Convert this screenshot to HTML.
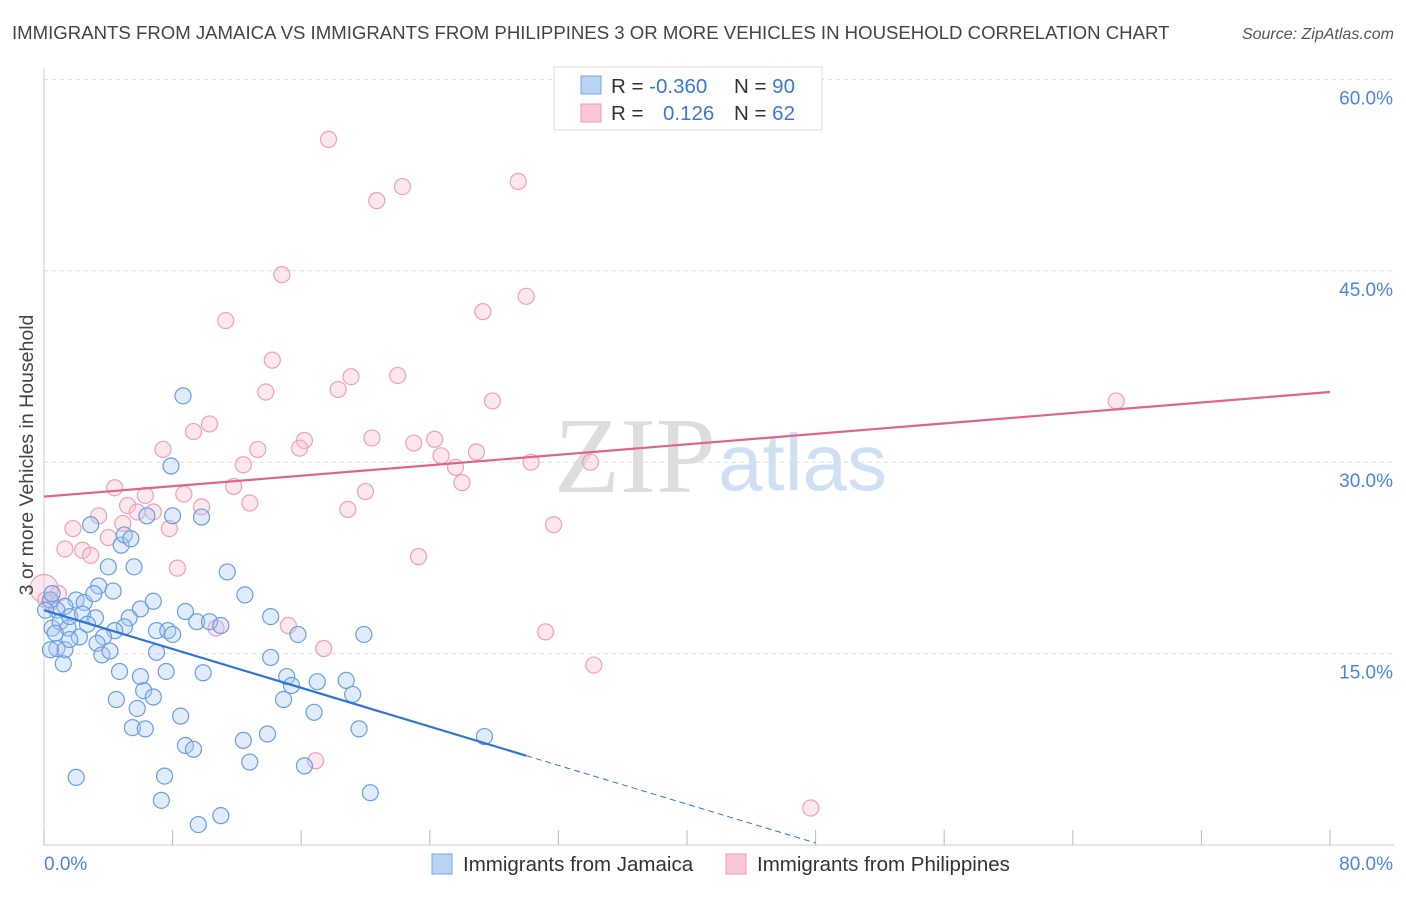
<!DOCTYPE html>
<html><head><meta charset="utf-8">
<style>
body{margin:0;background:#fff;font-family:"Liberation Sans",sans-serif;}
svg text{font-family:"Liberation Sans",sans-serif;}
</style></head>
<body>
<svg id="chart" width="1406" height="892" xmlns="http://www.w3.org/2000/svg">
<text x="12" y="39" font-size="18.6" fill="#444">IMMIGRANTS FROM JAMAICA VS IMMIGRANTS FROM PHILIPPINES 3 OR MORE VEHICLES IN HOUSEHOLD CORRELATION CHART</text>
<text x="1394" y="39" font-size="16" fill="#555" font-style="italic" text-anchor="end">Source: ZipAtlas.com</text>
<text x="716" y="492" font-size="108" fill="#ddd" text-anchor="end" style="font-family:'Liberation Serif',serif">ZIP</text>
<text x="718" y="490" font-size="80" fill="#cfe0f5">atlas</text>
<g id="grid"></g>
<g id="marks"></g>
<text transform="translate(33,455) rotate(-90)" font-size="19.5" fill="#444" text-anchor="middle">3 or more Vehicles in Household</text>
<g>
<rect x="554" y="67" width="268" height="63" fill="#fff" stroke="#ddd"/>
<rect x="581" y="76" width="20" height="18" fill="#b9d3f5" stroke="#7aa7e0"/>
<rect x="581" y="104" width="20" height="18" fill="#fcc7d6" stroke="#ee99b2"/>
<text x="611" y="93" font-size="20.5" fill="#333">R = <tspan fill="#3a78d6">-0.360</tspan></text>
<text x="734" y="93" font-size="20.5" fill="#333">N = <tspan fill="#3a78d6">90</tspan></text>
<text x="611" y="120" font-size="20.5" fill="#333">R = <tspan fill="#3a78d6" x="663">0.126</tspan></text>
<text x="734" y="120" font-size="20.5" fill="#333">N = <tspan fill="#3a78d6">62</tspan></text>
</g>
<g>
<rect x="432" y="854" width="20" height="20" fill="#b9d3f5" stroke="#7aa7e0"/>
<text x="463" y="871" font-size="20.5" fill="#333">Immigrants from Jamaica</text>
<rect x="726" y="854" width="20" height="20" fill="#fcc7d6" stroke="#ee99b2"/>
<text x="757" y="871" font-size="20.5" fill="#333">Immigrants from Philippines</text>
</g>
</svg>
<script>
const yTicks=[15,30,45,60];
const yTickLabels=["15.0%","30.0%","45.0%","60.0%"];
const xTicks=[0,8,16,24,32,40,48,56,64,72,80];
const blueX=[8.65,7.9,2.9,6.4,8.0,9.8,4.8,5.0,5.4,4.0,5.6,11.4,3.4,4.3,12.5,2.0,2.5,3.1,1.3,0.8,0.4,0.5,1.0,1.5,1.6,2.4,3.2,6.0,6.8,5.3,8.8,14.1,9.5,10.3,11.0,5.0,4.4,3.7,3.3,2.2,0.8,1.3,3.6,4.1,7.0,7.7,8.0,19.9,15.8,7.0,7.6,9.9,4.7,6.0,14.1,15.1,15.4,17.0,18.8,6.2,6.8,4.5,5.8,14.9,19.2,16.8,8.5,5.5,6.3,13.9,19.6,8.8,9.3,12.4,12.8,16.2,27.4,2.0,7.5,7.3,20.3,11.0,9.6,1.2,0.4,0.5,0.1,0.7,1.6,2.7];
const blueY=[35.2,29.7,25.1,25.8,25.8,25.7,23.5,24.3,24.0,21.8,21.8,21.4,20.3,19.9,19.6,19.2,19.0,19.7,18.7,18.4,19.2,17.0,17.5,17.0,17.9,18.1,17.8,18.5,19.1,17.8,18.3,17.9,17.5,17.5,17.2,17.1,16.8,16.3,15.8,16.3,15.4,15.3,14.9,15.2,16.8,16.8,16.5,16.5,16.5,15.1,13.6,13.5,13.6,13.2,14.7,13.2,12.5,12.8,12.9,12.1,11.6,11.4,10.7,11.4,11.8,10.4,10.1,9.2,9.1,8.7,9.1,7.8,7.5,8.2,6.5,6.2,8.5,5.3,5.4,3.5,4.1,2.3,1.6,14.2,15.3,19.7,18.4,16.6,16.1,17.3];
const pinkX=[17.7,20.7,22.3,29.5,14.8,11.3,30.0,27.3,14.2,19.1,22.0,18.3,13.8,27.9,66.7,10.3,9.3,7.4,13.3,20.4,16.2,15.9,23.0,24.3,24.7,26.9,25.6,30.3,34.0,12.4,11.8,8.7,20.0,26.0,4.4,6.3,12.8,9.8,18.9,5.2,5.8,6.8,3.4,7.8,4.9,1.8,31.7,4.0,1.3,2.4,2.9,8.3,23.3,0.0,0.1,0.9,0.4,15.2,10.7,17.4,31.2,34.2,16.9,47.7];
const pinkY=[55.3,50.5,51.6,52.0,44.7,41.1,43.0,41.8,38.0,36.7,36.8,35.7,35.5,34.8,34.8,33.0,32.4,31.0,31.0,31.9,31.7,31.1,31.5,31.8,30.5,30.8,29.6,30.0,30.0,29.8,28.1,27.5,27.7,28.4,28.0,27.4,26.8,26.5,26.3,26.6,26.1,26.1,25.8,24.8,25.2,24.8,25.1,24.1,23.2,23.1,22.7,21.7,22.6,20.1,19.2,19.7,19.0,17.2,17.0,15.4,16.7,14.1,6.6,2.9];
const blueTrend=[18.4,-0.38];
const pinkTrend=[27.3,0.1025];
const NS="http://www.w3.org/2000/svg";
const X=v=>44+v*16.075, Y=v=>845-v*12.76;
function mk(p,t,a){const e=document.createElementNS(NS,t);for(const k in a)e.setAttribute(k,a[k]);p.appendChild(e);return e;}
const grid=document.getElementById('grid'),marks=document.getElementById('marks');
yTicks.forEach((t,i)=>{
 const l=mk(grid,'line',{x1:44,x2:1394,y1:Y(t),y2:Y(t),stroke:'#ddd','stroke-dasharray':'4,4'});
 
 
 const tx=mk(grid,'text',{x:1393,y:Y(t)+25,'font-size':19,fill:'#4a86d8','text-anchor':'end'});tx.textContent=yTickLabels[i];
 
 
});
mk(grid,'line',{x1:44,x2:1394,y1:845,y2:845,stroke:'#ccc'});
mk(grid,'line',{x1:44,x2:44,y1:68,y2:845,stroke:'#ccc'});
xTicks.forEach(t=>{const l=mk(grid,'line',{x1:X(t),x2:X(t),y1:830,y2:845,stroke:'#bbb'});
 
 });
const x0=mk(grid,'text',{x:44,y:870,'font-size':19,fill:'#4a86d8'});x0.textContent='0.0%';


const x1=mk(grid,'text',{x:1393,y:870,'font-size':19,fill:'#4a86d8','text-anchor':'end'});x1.textContent='80.0%';


pinkX.forEach((v,i)=>{const c=mk(marks,'circle',{cx:X(v),cy:Y(pinkY[i]),r:(v===0?14:8),fill:'rgba(250,185,205,0.35)',stroke:'#f0a0b8','stroke-width':1.2});
 
 });
blueX.forEach((v,i)=>{const c=mk(marks,'circle',{cx:X(v),cy:Y(blueY[i]),r:8,fill:'rgba(170,200,240,0.35)',stroke:'#6a9ee0','stroke-width':1.2});
 
 });
const bl=mk(marks,'line',{x1:X(0),y1:Y(blueTrend[0]),x2:X(30),y2:Y(blueTrend[0]+blueTrend[1]*30),stroke:'#2f74d6','stroke-width':2.2});


const bd=mk(marks,'line',{x1:X(30),y1:Y(blueTrend[0]+blueTrend[1]*30),x2:X(48),y2:Y(blueTrend[0]+blueTrend[1]*48),stroke:'#2f74d6','stroke-width':1,'stroke-dasharray':'6,4'});


const pl=mk(marks,'line',{x1:X(0),y1:Y(pinkTrend[0]),x2:X(80),y2:Y(pinkTrend[0]+pinkTrend[1]*80),stroke:'#e0658c','stroke-width':2.2});


</script>
</body></html>
